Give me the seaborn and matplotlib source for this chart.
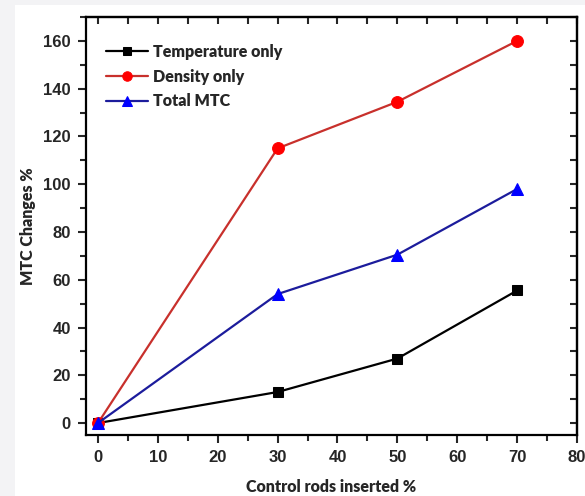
import pandas as pd
import numpy as np
import matplotlib.pyplot as plt
import seaborn as sns
from matplotlib.ticker import MultipleLocator
from matplotlib.patches import Rectangle

sns.set_style("ticks")

# data
rods = [0, 30, 50, 70]
temperature_only = [0, 13, 27, 55.5]
density_only = [0, 115, 134.5, 160]
total_mtc = [0, 54, 70.5, 98]

df = pd.DataFrame({
    "rods": rods * 3,
    "value": temperature_only + density_only + total_mtc,
    "series": ["Temperature only"] * 4 + ["Density only"] * 4 + ["Total MTC"] * 4,
})

fig = plt.figure(figsize=(5.85, 4.96), dpi=100, facecolor="#f3f3f5")
bg = Rectangle((15 / 585, 0), 1, 1 - 5 / 496, transform=fig.transFigure,
               facecolor="white", edgecolor="none", zorder=-10)
fig.add_artist(bg)
ax = fig.add_axes([86 / 585, 1 - 435 / 496, 491 / 585, 418 / 496])
ax.set_zorder(5)

styles = {
    "Temperature only": dict(color="black", mfc="black", marker="s", ms=7),
    "Density only": dict(color="#c8302c", mfc="#ff0000", marker="o", ms=8.5),
    "Total MTC": dict(color="#1c1c9c", mfc="#0000ff", marker="^", ms=8.5),
}
for name, st in styles.items():
    sub = df[df["series"] == name]
    sns.lineplot(data=sub, x="rods", y="value", ax=ax, color=st["color"], lw=1.6,
                 marker=st["marker"], markersize=st["ms"], markerfacecolor=st["mfc"],
                 markeredgecolor=st["mfc"], label=name)

ax.set_xlim(-2, 80)
ax.set_ylim(-5, 170)
ax.xaxis.set_major_locator(MultipleLocator(10))
ax.xaxis.set_minor_locator(MultipleLocator(5))
ax.yaxis.set_major_locator(MultipleLocator(20))
ax.yaxis.set_minor_locator(MultipleLocator(10))

for s in ax.spines.values():
    s.set_linewidth(1.6)
    s.set_color("black")

ax.tick_params(which="both", direction="out", width=1.5, top=False, right=False)
ax.tick_params(which="major", length=6, pad=5)
ax.tick_params(which="minor", length=4)
for lab in ax.get_xticklabels() + ax.get_yticklabels():
    lab.set_fontfamily("Liberation Sans")
    lab.set_fontweight("bold")
    lab.set_fontsize(12)

# inward ticks on top and right
ax_top = ax.secondary_xaxis("top")
ax_top.xaxis.set_major_locator(MultipleLocator(5))
ax_top.tick_params(direction="in", length=5, width=1.5, labeltop=False)
ax_right = ax.secondary_yaxis("right")
ax_right.yaxis.set_major_locator(MultipleLocator(10))
ax_right.tick_params(direction="in", length=5, width=1.5, labelright=False)
ax_top.spines["top"].set_linewidth(1.6)
ax_right.spines["right"].set_linewidth(1.6)

ax.set_xlabel("Control rods inserted %", fontfamily="Lato", fontweight="heavy",
              fontsize=11.5, labelpad=10)
ax.set_ylabel("MTC Changes %", fontfamily="Lato", fontweight="heavy",
              fontsize=11.5, labelpad=5)

leg = ax.legend(loc="upper left", bbox_to_anchor=(0.012, 0.97), frameon=False,
                handlelength=2.6, handletextpad=0.35, labelspacing=0.55,
                markerscale=0.8,
                prop={"family": "Lato", "weight": "heavy", "size": 11.5})

fig.savefig("out.png", dpi=100, facecolor=fig.get_facecolor())
